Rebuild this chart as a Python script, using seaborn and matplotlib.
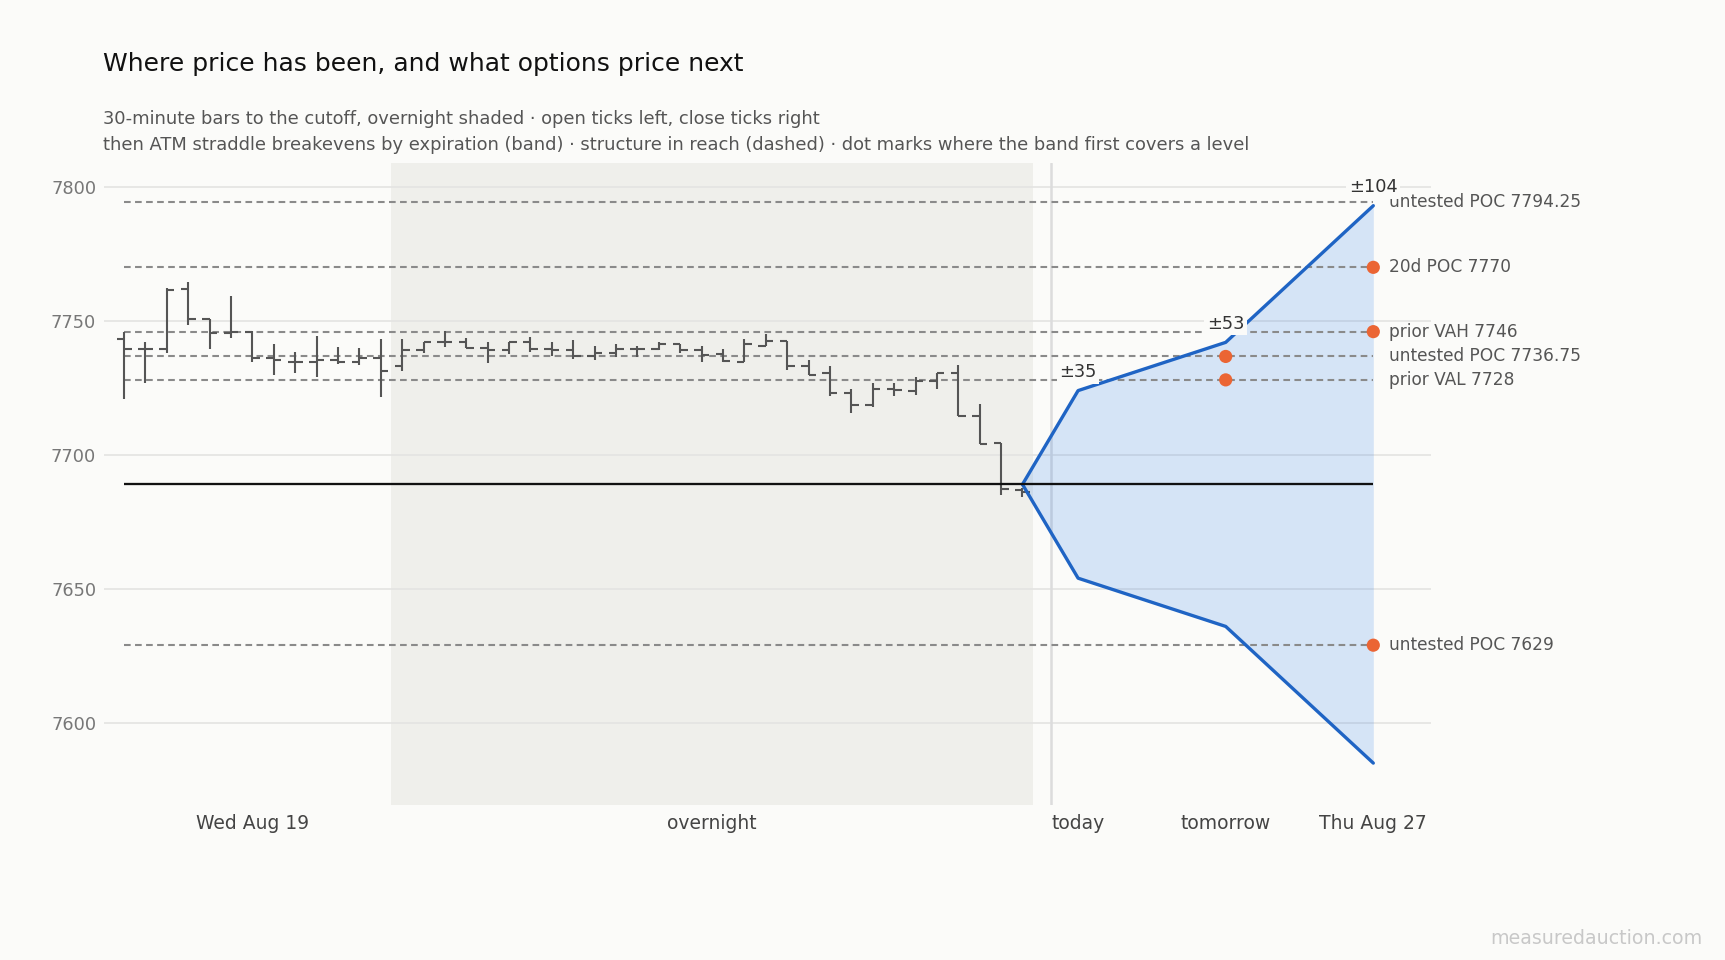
import numpy as np
import pandas as pd
import seaborn as sns
import matplotlib.pyplot as plt

# 30-minute bars (open, high, low, close), session then overnight
opens = [7743.25, 7739.5, 7739.5, 7762.0, 7750.75, 7745.5, 7746.0, 7736.0, 7734.75, 7734.5,
         7735.25, 7734.75, 7736.0, 7733.0, 7739.0, 7742.0, 7742.0, 7740.0, 7739.0, 7742.25,
         7739.5, 7739.0, 7736.75, 7738.0, 7739.5, 7739.5, 7741.25, 7739.25, 7737.5, 7734.75,
         7740.75, 7742.5, 7733.0, 7730.5, 7723.25, 7718.5, 7724.5, 7724.0, 7727.5, 7730.75,
         7714.5, 7704.5, 7687.0]
highs = [7746.0, 7742.0, 7762.25, 7764.5, 7750.75, 7759.25, 7746.25, 7741.25, 7738.25, 7744.5,
         7740.25, 7739.75, 7743.25, 7743.25, 7742.0, 7746.25, 7743.5, 7742.25, 7742.25, 7744.0,
         7742.25, 7743.0, 7740.5, 7741.5, 7740.5, 7742.0, 7741.5, 7740.5, 7739.5, 7743.25,
         7745.0, 7742.5, 7735.5, 7733.25, 7724.5, 7726.75, 7726.75, 7729.0, 7730.75, 7733.5,
         7719.0, 7704.5, 7687.5]
lows = [7720.75, 7726.75, 7738.0, 7748.5, 7739.5, 7743.5, 7734.5, 7730.0, 7730.75, 7729.25,
        7734.0, 7733.5, 7721.75, 7731.5, 7738.0, 7740.25, 7739.75, 7734.25, 7737.5, 7738.5,
        7737.0, 7735.75, 7735.25, 7736.5, 7736.5, 7739.25, 7738.0, 7734.75, 7734.5, 7734.5,
        7740.5, 7731.75, 7729.75, 7722.0, 7715.5, 7717.75, 7722.0, 7722.5, 7724.5, 7714.5,
        7704.0, 7685.0, 7684.25]
closes = [7739.5, 7739.5, 7761.5, 7750.75, 7745.5, 7746.0, 7736.0, 7735.25, 7734.75, 7735.25,
          7734.75, 7736.0, 7731.5, 7739.0, 7742.0, 7742.0, 7740.0, 7739.0, 7742.25, 7739.5,
          7739.0, 7736.75, 7738.0, 7739.5, 7739.5, 7741.25, 7739.25, 7737.25, 7735.0, 7741.25,
          7742.5, 7733.0, 7730.0, 7723.25, 7718.5, 7724.5, 7724.25, 7727.5, 7730.75, 7714.5,
          7704.0, 7687.25, 7686.0]
n_session = 13  # bars before the overnight session

# straddle projection
ref_price = 7689
exp_labels = ["today", "tomorrow", "Thu Aug 27"]
exp_x = [44.6, 51.5, 58.4]
straddle = [35, 53, 104]

# structure levels
level_names = ["untested POC 7794.25", "20d POC 7770", "prior VAH 7746",
               "untested POC 7736.75", "prior VAL 7728", "untested POC 7629"]
level_values = [7794.25, 7770, 7746, 7736.75, 7728, 7629]

bg = "#fbfbf9"
sns.set_theme(style="white", rc={"figure.facecolor": bg, "axes.facecolor": bg})
plt.rcParams["font.family"] = ["DejaVu Sans"]

fig = plt.figure(figsize=(11.5, 6.4), dpi=150)
ax = fig.add_axes([0.06, 0.161, 0.7696, 0.6694])

bars = pd.DataFrame({"open": opens, "high": highs, "low": lows, "close": closes})
bars["x"] = np.arange(len(bars))
last_x = bars["x"].iloc[-1]

# overnight shading and cutoff separator
ax.axvspan(n_session - 0.5, last_x + 0.5, color="#efefeb", zorder=0, lw=0)
ax.axvline(last_x + 1.35, color="#dcdcdc", lw=1.2, zorder=1)

for yv in [7600, 7650, 7700, 7750, 7800]:
    ax.axhline(yv, color="#e4e4e2", lw=0.8, zorder=0.5)

# OHLC bars
tick = 0.35
ax.vlines(bars["x"], bars["low"], bars["high"], color="#555555", lw=1.0, zorder=3)
ax.hlines(bars["open"], bars["x"] - tick, bars["x"], color="#555555", lw=1.0, zorder=3)
ax.hlines(bars["close"], bars["x"], bars["x"] + tick, color="#555555", lw=1.0, zorder=3)

# band
band_x = [last_x] + exp_x
upper = [ref_price] + [ref_price + s for s in straddle]
lower = [ref_price] + [ref_price - s for s in straddle]
ax.fill_between(band_x, lower, upper, color="#2b7de9", alpha=0.18, lw=0, zorder=1.5)
band = pd.DataFrame({"x": band_x * 2, "y": upper + lower,
                     "side": ["up"] * len(band_x) + ["down"] * len(band_x)})
sns.lineplot(data=band, x="x", y="y", units="side", estimator=None, sort=False,
             color="#1f64c4", lw=1.6, ax=ax, zorder=4)

# reference price and levels
ax.hlines(ref_price, 0, exp_x[-1], color="#111111", lw=1.1, zorder=5)
for name, val in zip(level_names, level_values):
    ax.hlines(val, 0, exp_x[-1], color="#8a8a8a", lw=1.0, linestyles=(0, (3.2, 2.1)), zorder=2)
    ax.annotate(name, (exp_x[-1], val), xytext=(7.5, 0), textcoords="offset points",
                va="center", ha="left", fontsize=8.2, color="#555555", zorder=7)

# first expiration whose band covers each level
hits = []
for val in level_values:
    for xe, s in zip(exp_x, straddle):
        if ref_price - s <= val <= ref_price + s:
            hits.append((xe, val))
            break
hit_df = pd.DataFrame(hits, columns=["x", "y"])
sns.scatterplot(data=hit_df, x="x", y="y", color="#eb6534", s=40, edgecolor="none",
                ax=ax, zorder=6)

for xe, s in zip(exp_x, straddle):
    ax.annotate(f"±{s}", (xe, ref_price + s), xytext=(0, 9), textcoords="offset points",
                ha="center", va="center", fontsize=8.5, color="#333333", zorder=8,
                bbox=dict(boxstyle="square,pad=0.15", fc=bg, ec="none"))

ax.set_xlim(-0.96, 61.1)
ax.set_ylim(7569.2, 7809.0)
ax.set_yticks([7600, 7650, 7700, 7750, 7800])
ax.set_xticks([(n_session - 1) / 2, (n_session - 0.5 + last_x + 0.5) / 2] + exp_x)
ax.set_xticklabels(["Wed Aug 19", "overnight"] + exp_labels)
ax.tick_params(axis="x", length=0, pad=4, labelsize=9, labelcolor="#444444")
ax.tick_params(axis="y", length=0, pad=3.5, labelsize=8.5, labelcolor="#777777")
ax.set_xlabel("")
ax.set_ylabel("")
for sp in ax.spines.values():
    sp.set_visible(False)
ax.grid(False)

fig.text(103 / 1725, 1 - 70.5 / 960, "Where price has been, and what options price next",
         fontsize=12, color="#111111", va="baseline", ha="left")
fig.text(103 / 1725, 1 - 123.5 / 960,
         "30-minute bars to the cutoff, overnight shaded · open ticks left, close ticks right",
         fontsize=8.6, color="#555555", va="baseline", ha="left")
fig.text(103 / 1725, 1 - 149.5 / 960,
         "then ATM straddle breakevens by expiration (band) · structure in reach (dashed) · "
         "dot marks where the band first covers a level",
         fontsize=8.6, color="#555555", va="baseline", ha="left")
fig.text(1703 / 1725, 1 - 944 / 960, "measuredauction.com", fontsize=9.1,
         color="#c8c8c8", va="baseline", ha="right")

fig.savefig("out.png", dpi=150, facecolor=bg)
